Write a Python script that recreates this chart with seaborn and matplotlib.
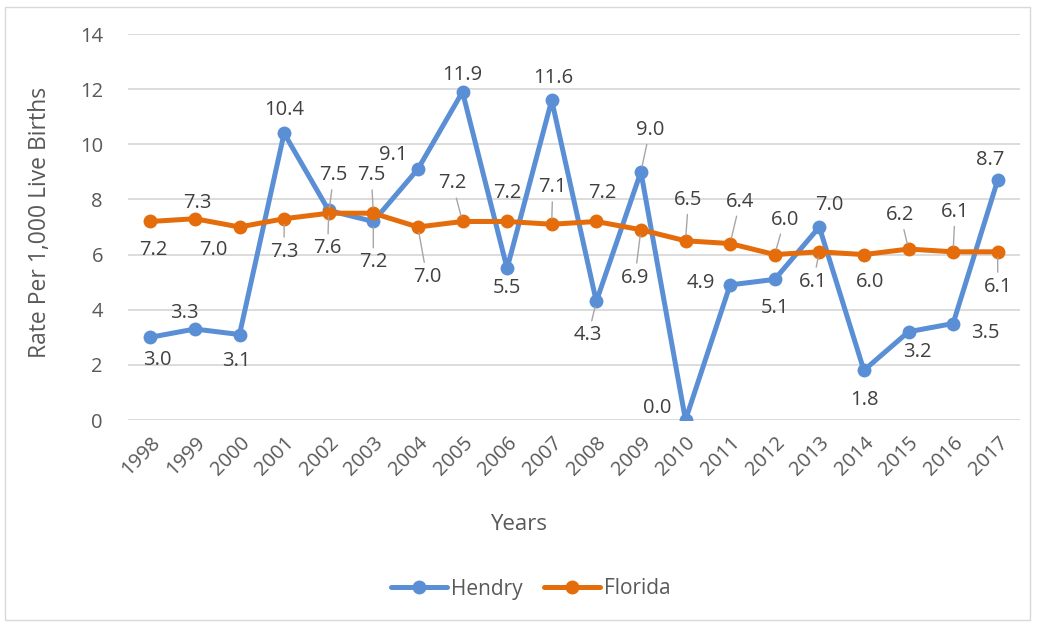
import matplotlib
matplotlib.use("Agg")
import matplotlib.pyplot as plt
import seaborn as sns
import pandas as pd
from matplotlib.lines import Line2D
from matplotlib.patches import Rectangle

years = list(range(1998, 2018))
hendry = [3.0, 3.3, 3.1, 10.4, 7.6, 7.2, 9.1, 11.9, 5.5, 11.6, 4.3, 9.0, 0.0, 4.9, 5.1, 7.0, 1.8, 3.2, 3.5, 8.7]
florida = [7.2, 7.3, 7.0, 7.3, 7.5, 7.5, 7.0, 7.2, 7.2, 7.1, 7.2, 6.9, 6.5, 6.4, 6.0, 6.1, 6.0, 6.2, 6.1, 6.1]
series_names = ["Hendry", "Florida"]
y_ticks = [0, 2, 4, 6, 8, 10, 12, 14]

# label placement (pixel offsets, leader line flag) -- styling only
hendry_offsets = [(7, -23, 0), (-11, 16, 0), (-3, -26, 0), (0, 23, 0), (-1, -38, 1), (0, -41, 1),
                  (-25, 14, 0), (0, 17, 0), (0, -20, 0), (2, 22, 0), (-8, -34, 1), (9, 42, 1),
                  (-28, 12, 0), (-29, 2, 0), (0, -29, 0), (10, 22, 0), (1, -30, 0), (9, -20, 0),
                  (32, -9, 0), (-8, 20, 0)]
florida_offsets = [(3, -29, 0), (2, 16, 0), (-26, -23, 0), (0, -33, 1), (5, 38, 1), (-2, 38, 1),
                   (9, -50, 1), (-10, 38, 1), (0, 28, 0), (1, 37, 1), (6, 28, 0), (-6, -48, 1),
                   (3, 41, 1), (10, 42, 1), (10, 35, 1), (-6, -30, 1), (6, -27, 0), (-8, 34, 1),
                   (2, 40, 1), (0, -35, 1)]

df = pd.DataFrame({
    "Year": years * 2,
    "Rate": hendry + florida,
    "Series": [series_names[0]] * len(years) + [series_names[1]] * len(years),
})

colors = {"Hendry": "#5A8FD6", "Florida": "#E46C0A"}

sns.set_theme(style="white")
plt.rcParams["font.family"] = ["Open Sans", "DejaVu Sans"]

FS = 14.5
fig = plt.figure(figsize=(10.37, 6.23), dpi=100)
ax = fig.add_axes([128 / 1037, 1 - 420 / 623, (1020 - 128) / 1037, (420 - 34) / 623])

sns.lineplot(data=df, x="Year", y="Rate", hue="Series", palette=colors, marker="o",
             markersize=10, markeredgewidth=0, linewidth=3.6, ax=ax, legend=False, zorder=3)

ax.set_xlim(years[0] - 0.5, years[-1] + 0.5)
ax.set_ylim(0, 14)
ax.set_yticks(y_ticks)
ax.set_yticklabels([str(t) for t in y_ticks])
ax.set_xticks(years)
ax.set_xticklabels([str(y) for y in years], rotation=45, ha="right", rotation_mode="anchor")
ax.tick_params(axis="both", length=0, labelsize=FS, colors="#595959")
ax.tick_params(axis="y", pad=18)
ax.tick_params(axis="x", pad=9)
ax.grid(axis="y", color="#D9D9D9", linewidth=1.3)
ax.set_axisbelow(True)
for s in ax.spines.values():
    s.set_visible(False)

ax.set_xlabel("Years", fontsize=16, color="#595959")
ax.xaxis.set_label_coords((519 - 128) / 892, (420 - 525) / 386)
ax.xaxis.label.set_va("center")
ax.set_ylabel("Rate Per 1,000 Live Births", fontsize=16.5, color="#595959")
ax.yaxis.set_label_coords((40 - 128) / 892, (420 - 222) / 386)
ax.yaxis.label.set_va("center")

for vals, offs in [(hendry, hendry_offsets), (florida, florida_offsets)]:
    for yr, v, (dx, dy, lead) in zip(years, vals, offs):
        ap = dict(arrowstyle="-", color="#A6A6A6", lw=1.0, shrinkA=1, shrinkB=4) if lead else None
        ax.annotate(f"{v:.1f}", xy=(yr, v), xytext=(dx, dy), textcoords="offset pixels",
                    ha="center", va="center", fontsize=FS, color="#404040",
                    arrowprops=ap, zorder=5)

handles = [Line2D([0], [0], color=colors[n], lw=3.6, marker="o", markersize=10,
                  markeredgewidth=0) for n in series_names]
fig.legend(handles, series_names, loc="center", bbox_to_anchor=(531 / 1037, 1 - 589 / 623),
           ncol=2, frameon=False, fontsize=15, handlelength=2.7, columnspacing=1.0,
           handletextpad=0.2, labelcolor="#595959")

fig.patches.append(Rectangle((5 / 1037, 3 / 623), 1025 / 1037, 613 / 623, transform=fig.transFigure,
                             fill=False, edgecolor="#D9D9D9", linewidth=1.0))

fig.savefig("out.png", dpi=100)
